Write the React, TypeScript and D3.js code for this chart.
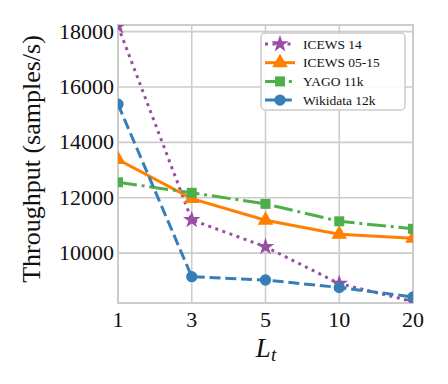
import * as d3 from "d3";

const LT_LABELS = ["1", "3", "5", "10", "20"];
const Y_TICKS = [10000, 12000, 14000, 16000, 18000];

const ICEWS14 = [18200, 11200, 10230, 8900, 8250];
const ICEWS0515 = [13380, 11970, 11190, 10680, 10540];
const YAGO11K = [12560, 12180, 11780, 11150, 10880];
const WIKIDATA12K = [15380, 9150, 9030, 8760, 8420];

const SERIES = [
  { name: "ICEWS 14", values: ICEWS14, color: "#984ea3", dash: "3,4.5", symbol: d3.symbolStar, size: 95 },
  { name: "ICEWS 05-15", values: ICEWS0515, color: "#ff7f00", dash: "", symbol: d3.symbolTriangle, size: 105 },
  { name: "YAGO 11k", values: YAGO11K, color: "#4daf4a", dash: "19,4.8,3,4.8", symbol: d3.symbolSquare, size: 100 },
  { name: "Wikidata 12k", values: WIKIDATA12K, color: "#377eb8", dash: "11,4.8", symbol: d3.symbolCircle, size: 100 },
];

const FONT = "Liberation Serif, Times New Roman, serif";

export default function App() {
  const width = 448;
  const height = 384;
  const left = 118;
  const right = 413;
  const top = 25;
  const bottom = 303;

  const x = d3.scalePoint<string>().domain(LT_LABELS).range([left, right]).padding(0);
  const y = d3.scaleLinear().domain([8200, 18240]).range([bottom, top]);

  const line = d3
    .line<number>()
    .x((_, i) => x(LT_LABELS[i]) as number)
    .y((d) => y(d));

  const grid = "#cccccc";
  const ink = "#111";

  return (
    <svg
      width={width}
      height={height}
      style={{ position: "absolute", left: 0, top: 0, background: "#fff", fontFamily: FONT }}
    >
      <defs>
        <clipPath id="plot-clip">
          <rect x={left} y={top} width={right - left} height={bottom - top} />
        </clipPath>
      </defs>

      {/* grid */}
      {LT_LABELS.map((t) => (
        <line key={t} x1={x(t)} x2={x(t)} y1={top} y2={bottom} stroke={grid} strokeWidth={1.6} />
      ))}
      {Y_TICKS.map((t) => (
        <line key={t} x1={left} x2={right} y1={y(t)} y2={y(t)} stroke={grid} strokeWidth={1.6} />
      ))}
      <rect x={left} y={top} width={right - left} height={bottom - top} fill="none" stroke={grid} strokeWidth={2} />

      {/* series */}
      <g clipPath="url(#plot-clip)">
        {SERIES.map((s) => (
          <path
            key={s.name}
            d={line(s.values) || ""}
            fill="none"
            stroke={s.color}
            strokeWidth={3}
            strokeDasharray={s.dash}
          />
        ))}
        {SERIES.map((s) =>
          s.values.map((v, i) => (
            <path
              key={s.name + i}
              d={d3.symbol(s.symbol, s.size)() || ""}
              transform={`translate(${x(LT_LABELS[i])},${y(v)})`}
              fill={s.color}
            />
          ))
        )}
      </g>

      {/* tick labels */}
      {LT_LABELS.map((t) => (
        <text key={t} x={x(t)} y={327} textAnchor="middle" fontSize={22} fill={ink}>
          {t}
        </text>
      ))}
      {Y_TICKS.map((t) => (
        <text key={t} x={114} y={y(t) + 7} textAnchor="end" fontSize={22} fill={ink}>
          {t}
        </text>
      ))}

      {/* axis titles */}
      <text
        transform={`translate(40,159) rotate(-90)`}
        textAnchor="middle"
        fontSize={26}
        fill={ink}
      >
        Throughput (samples/s)
      </text>
      <text x={266} y={357} textAnchor="middle" fontSize={27} fontStyle="italic" fill={ink}>
        L<tspan fontSize={19} dy={4}>t</tspan>
      </text>

      {/* legend */}
      <g>
        <rect x={261} y={33} width={144} height={77} rx={4} fill="#fff" fillOpacity={0.85} stroke={grid} strokeWidth={1.5} />
        {SERIES.map((s, i) => {
          const ly = 44 + i * 18.7;
          return (
            <g key={s.name}>
              <line x1={265} x2={295} y1={ly} y2={ly} stroke={s.color} strokeWidth={3} strokeDasharray={s.dash} />
              <path d={d3.symbol(s.symbol, s.size)() || ""} transform={`translate(280,${ly})`} fill={s.color} />
              <text x={303} y={ly + 4.5} fontSize={13.5} fill={ink}>
                {s.name}
              </text>
            </g>
          );
        })}
      </g>
    </svg>
  );
}
